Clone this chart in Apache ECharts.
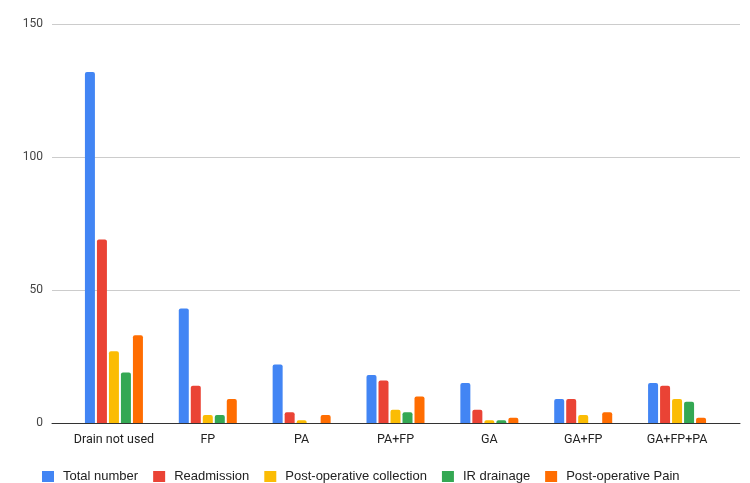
<!DOCTYPE html>
<html>
<head>
<meta charset="utf-8">
<script src="https://cdn.jsdelivr.net/npm/echarts@6/dist/echarts.min.js"></script>
<style>
  html, body { margin: 0; padding: 0; background: #fff; }
  #chart { width: 750px; height: 483px; }
</style>
</head>
<body>
<div id="chart"></div>
<script>
const categories = ['Drain not used', 'FP', 'PA', 'PA+FP', 'GA', 'GA+FP', 'GA+FP+PA'];
const totalNumber = [132, 43, 22, 18, 15, 9, 15];
const readmission = [69, 14, 4, 16, 5, 9, 14];
const postOpCollection = [27, 3, 1, 5, 1, 3, 9];
const irDrainage = [19, 3, 0, 4, 1, 0, 8];
const postOpPain = [33, 9, 3, 10, 2, 4, 2];
const yTicks = [0, 50, 100, 150];

const seriesDefs = [
  { name: 'Total number', data: totalNumber, color: '#4285F4' },
  { name: 'Readmission', data: readmission, color: '#EA4335' },
  { name: 'Post-operative collection', data: postOpCollection, color: '#FBBC04' },
  { name: 'IR drainage', data: irDrainage, color: '#34A853' },
  { name: 'Post-operative Pain', data: postOpPain, color: '#FF6D01' }
];

const chart = echarts.init(document.getElementById('chart'));
const font = 'Roboto, Arial, sans-serif';

chart.setOption({
  animation: false,
  textStyle: { fontFamily: font },
  grid: [
    { left: 67, right: 26, top: 24, bottom: 60 },
    { left: 52, right: 10, top: 24, bottom: 60 }
  ],
  legend: {
    left: 37,
    top: 465,
    itemWidth: 12,
    itemHeight: 11,
    itemGap: 15,
    icon: 'rect',
    textStyle: {
      fontSize: 13,
      color: '#222',
      fontFamily: 'Arial, "Liberation Sans", sans-serif',
      padding: [0, 0, 0, 4]
    },
    data: seriesDefs.map(s => s.name)
  },
  xAxis: [
    {
      type: 'category',
      gridIndex: 0,
      data: categories,
      axisLine: { show: false },
      axisTick: { show: false },
      axisLabel: { color: '#222', fontSize: 12.5, margin: 10, interval: 0 }
    },
    {
      type: 'category',
      gridIndex: 1,
      data: [''],
      axisLine: { show: true, lineStyle: { color: '#333', width: 1 } },
      axisTick: { show: false },
      axisLabel: { show: false }
    }
  ],
  yAxis: [
    {
      type: 'value',
      gridIndex: 0,
      min: yTicks[0],
      max: yTicks[yTicks.length - 1],
      interval: 50,
      axisLabel: { show: false },
      splitLine: { show: false },
      axisLine: { show: false },
      axisTick: { show: false }
    },
    {
      type: 'value',
      gridIndex: 1,
      min: yTicks[0],
      max: yTicks[yTicks.length - 1],
      interval: 50,
      axisLabel: { color: '#444', fontSize: 12, margin: 9 },
      splitLine: { lineStyle: { color: '#cccccc', width: 1 } },
      axisLine: { show: false },
      axisTick: { show: false }
    }
  ],
  series: seriesDefs.map(s => ({
    name: s.name,
    type: 'bar',
    xAxisIndex: 0,
    yAxisIndex: 0,
    data: s.data,
    barWidth: 10,
    barGap: '20%',
    itemStyle: { color: s.color, borderRadius: [2, 2, 0, 0] },
    z: 3
  }))
});
</script>
</body>
</html>
